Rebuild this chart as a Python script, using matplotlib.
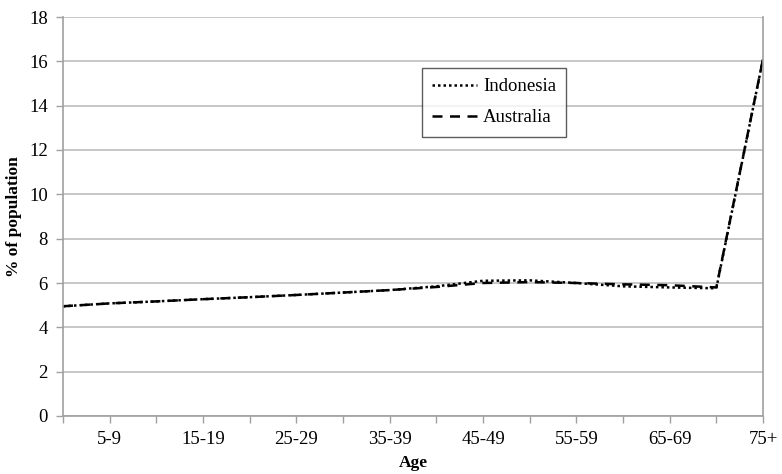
import matplotlib
matplotlib.use("Agg")
import matplotlib.pyplot as plt
import numpy as np

# === DATOS ===
age_groups = ["0-4", "5-9", "10-14", "15-19", "20-24", "25-29", "30-34", "35-39",
              "40-44", "45-49", "50-54", "55-59", "60-64", "65-69", "70-74", "75+"]
indonesia = [4.95, 5.08, 5.17, 5.27, 5.36, 5.46, 5.57, 5.68,
             5.85, 6.10, 6.12, 6.00, 5.85, 5.80, 5.76, 16.1]
australia = [4.95, 5.08, 5.17, 5.27, 5.36, 5.46, 5.57, 5.68,
             5.82, 6.00, 6.04, 6.00, 5.94, 5.90, 5.80, 16.1]
y_ticks = list(range(0, 19, 2))

plt.rcParams['font.family'] = ['Liberation Serif', 'DejaVu Serif']

fig = plt.figure(figsize=(7.82, 4.74), dpi=100)
ax = fig.add_axes([63 / 782, 1 - 416 / 474, 700 / 782, 399 / 474])

x = np.arange(len(age_groups))
ax.plot(x, indonesia, color='black', linestyle=(0, (1, 1.2)), linewidth=1.8, label='Indonesia')
ax.plot(x, australia, color='black', linestyle=(0, (4, 3)), linewidth=1.8, label='Australia')

ax.set_xlim(0, len(age_groups) - 1)
ax.set_ylim(0, 18)
ax.set_yticks(y_ticks)
ax.set_yticklabels([str(v) for v in y_ticks], fontsize=13.5)
ax.set_xticks(x)
ax.set_xticklabels([lab if i % 2 == 1 else "" for i, lab in enumerate(age_groups)], fontsize=13.5)

ax.yaxis.grid(True, color='#BEBEBE', linewidth=1.2)
ax.set_axisbelow(True)
for side in ['left', 'bottom', 'right']:
    ax.spines[side].set_color('#A0A0A0')
    ax.spines[side].set_linewidth(1.2)
ax.spines['top'].set_visible(False)
ax.tick_params(axis='both', color='#A0A0A0', length=5, width=1.0)
ax.tick_params(axis='y', pad=6)
ax.tick_params(axis='x', pad=6)

ax.set_xlabel('Age', fontsize=12.5, fontweight='bold', labelpad=5)
ax.set_ylabel('% of population', fontsize=12.5, fontweight='bold', labelpad=5)

leg = ax.legend(loc='upper left', bbox_to_anchor=(0.513, 0.873), fontsize=13.5,
                frameon=True, fancybox=False, handlelength=2.4, handletextpad=0.3,
                borderpad=0.55, labelspacing=0.75, borderaxespad=0)
leg.get_frame().set_edgecolor('#333333')
leg.get_frame().set_linewidth(1.0)

fig.savefig('out.png', dpi=100, facecolor='white')
